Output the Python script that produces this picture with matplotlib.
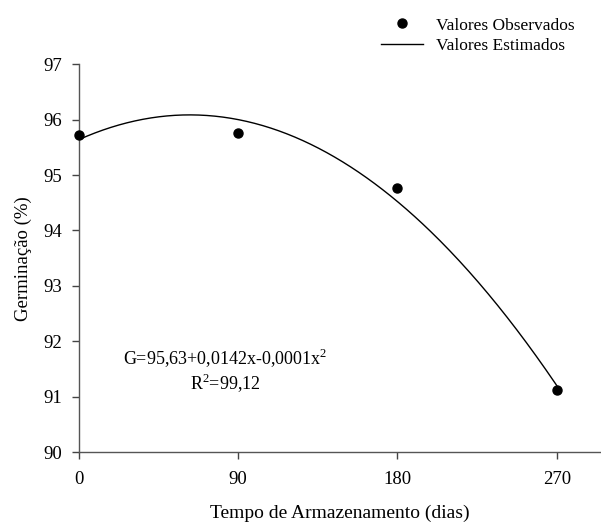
import numpy as np
import matplotlib
matplotlib.use("Agg")
import matplotlib.pyplot as plt
from matplotlib.lines import Line2D

plt.rcParams['font.family'] = ['Liberation Serif', 'DejaVu Serif']
plt.rcParams['mathtext.fontset'] = 'custom'
plt.rcParams['mathtext.rm'] = 'Liberation Serif'

# Data
dias = [0, 90, 180, 270]
germinacao = [95.72, 95.76, 94.76, 91.12]
x_ticks = [0, 90, 180, 270]
y_ticks = [90, 91, 92, 93, 94, 95, 96, 97]
equacao = "G=95,63+0,0142x-0,0001x$^2$"
r2 = "R$^2$=99,12"

fig = plt.figure(figsize=(6.01, 5.22), dpi=100)
ax = fig.add_axes([0.1314, 0.134, 0.8686, 0.743])

# regression line (quadratic fit of observed values)
coef = np.polyfit(dias, germinacao, 2)
xs = np.linspace(0, 270, 300)
ax.plot(xs, np.polyval(coef, xs), color='black', lw=1.0)
ax.plot(dias, germinacao, 'o', color='black', ms=6.5, clip_on=False, zorder=5)

ax.set_xlim(0, 295)
ax.set_ylim(90, 97)
ax.set_xticks(x_ticks)
ax.set_yticks(y_ticks)
ax.tick_params(direction='out', length=5, width=1, colors='#444444', labelcolor='black', labelsize=13.5)
ax.tick_params(axis='y', pad=7)
ax.tick_params(axis='x', pad=9)
for s in ['top', 'right']:
    ax.spines[s].set_visible(False)
for s in ['left', 'bottom']:
    ax.spines[s].set_color('#555555')
    ax.spines[s].set_linewidth(1.0)

ax.set_xlabel('Tempo de Armazenamento (dias)', fontsize=14, labelpad=12)
ax.set_ylabel('Germinação (%)', fontsize=13.5, labelpad=8)

ax.text(82.5, 91.70, equacao, fontsize=13, ha='center', va='center')
ax.text(82.5, 91.25, r2, fontsize=13, ha='center', va='center')

handles = [Line2D([], [], marker='o', color='black', ls='none', ms=6.5),
           Line2D([], [], color='black', lw=1.0)]
fig.legend(handles, ['Valores Observados', 'Valores Estimados'],
           loc='upper left', bbox_to_anchor=(0.605, 1.0), frameon=False,
           fontsize=12.5, handlelength=2.4, handletextpad=0.75, labelspacing=0.25,
           borderaxespad=0.6)

fig.savefig('out.png', dpi=100)
